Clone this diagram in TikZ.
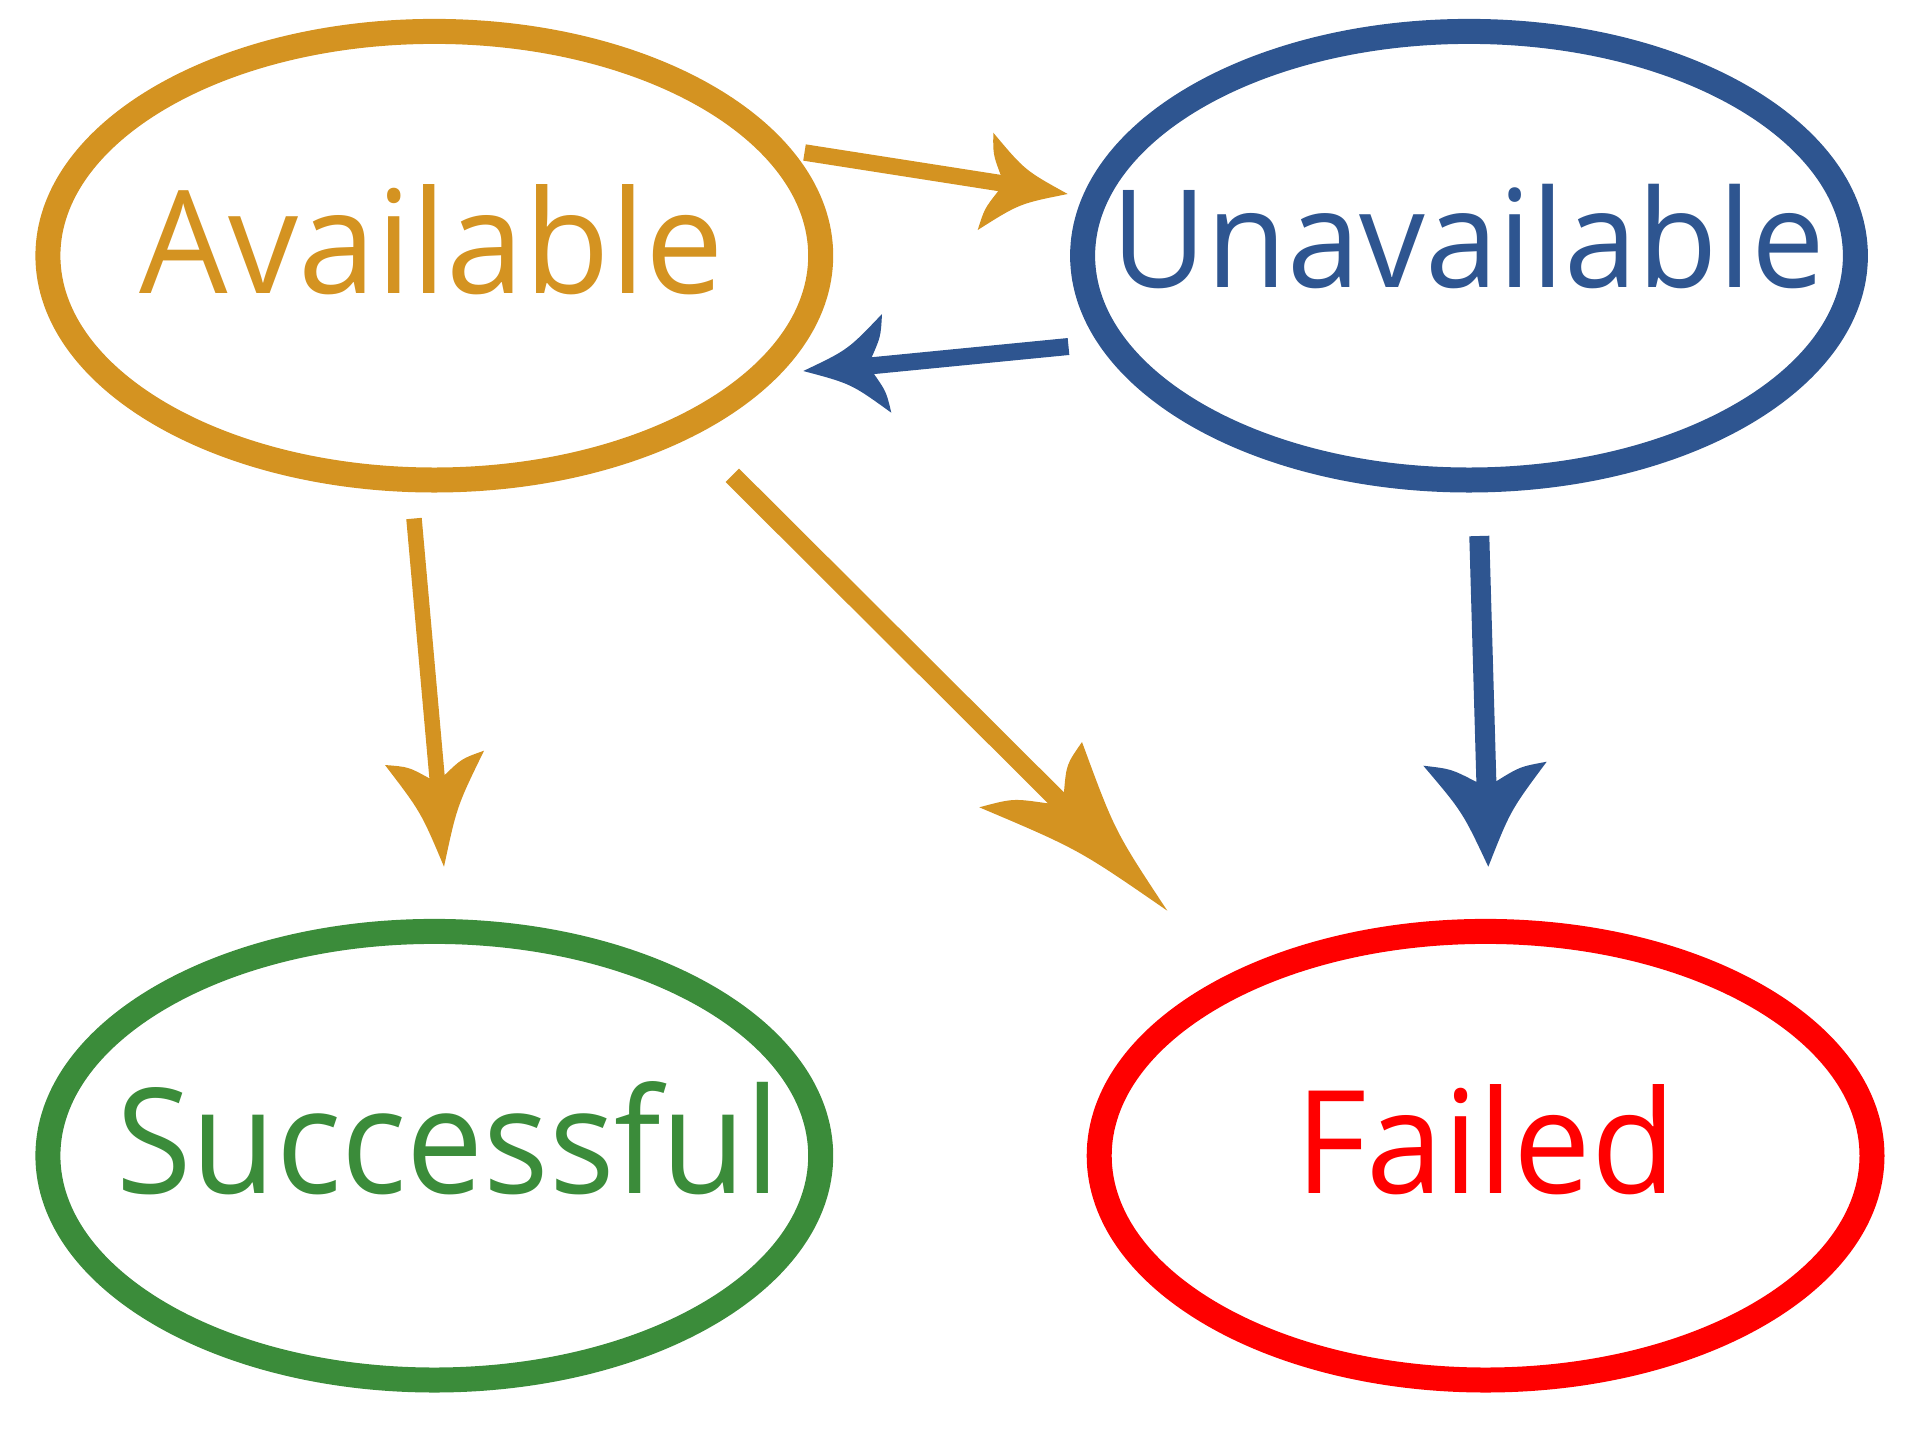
\documentclass[tikz,border=0pt]{standalone}
\usepackage{fontspec}
\setmainfont{Open Sans}
\usetikzlibrary{calc,shapes.geometric}
\definecolor{cOr}{RGB}{212,147,33}
\definecolor{cBl}{RGB}{46,85,144}
\definecolor{cGr}{RGB}{59,140,58}
\definecolor{cRd}{RGB}{255,0,0}
% arrow head: #1 colour, #2 tip, #3 left barb, #4 left notch, #5 right notch, #6 right barb, #7 outer bow, #8 inner bow
\newcommand\ahead[8]{%
  \fill[#1] (#2) .. controls ($(#2)!0.5!(#3)!#7!90:(#3)$) .. (#3)
    .. controls ($(#3)!0.5!(#4)!#8!-90:(#4)$) .. (#4) -- (#5)
    .. controls ($(#5)!0.5!(#6)!#8!-90:(#6)$) .. (#6)
    .. controls ($(#6)!0.5!(#2)!#7!90:(#2)$) .. (#2) -- cycle;}
\begin{document}
\begin{tikzpicture}[x=1pt,y=1pt,
  state/.style={ellipse, draw=#1, line width=25pt, minimum width=772.8pt,
    minimum height=448.6pt, inner sep=0pt},
  lbl/.style={anchor=base, inner sep=0pt, text=#1,
    font=\fontsize{100pt}{100pt}\selectfont},
  shaft/.style={draw=#1}]
\useasboundingbox (0,0) rectangle (1928,-1436);

% states
\node[state=cOr] (A) at (434.3,-255.7) {};
\node[state=cBl] (U) at (1469,-255.7) {};
\node[state=cGr] (S) at (434.3,-1155.7) {};
\node[state=cRd] (F) at (1485.6,-1155.7) {};

\node[lbl=cOr] (tA) at (432,-293) {\resizebox{584pt}{109pt}{Available}};
\node[lbl=cBl] (tU) at (1468,-287.3) {\resizebox{714pt}{103.3pt}{Unavailable}};
\node[lbl=cGr] (tS) at (448.5,-1193) {\resizebox{664pt}{112pt}{Successful}};
\node[lbl=cRd] (tF) at (1485.5,-1193) {\resizebox{381pt}{109pt}{Failed}};

% arrow 1: Available -> Unavailable
\coordinate (s1) at (804.5,-152.5);
\coordinate (t1) at (1067.7,-194);
\coordinate (bl1) at (993.3,-132.7);
\coordinate (nl1) at (1000.7,-175);
\coordinate (nr1) at (998.3,-191);
\coordinate (br1) at (977.7,-230);
\coordinate (m1) at ($(nl1)!0.5!(nr1)$);
\draw[shaft=cOr, line width=16.5pt] (s1) -- ($(m1)!-4pt!(s1)$);
\ahead{cOr}{t1}{bl1}{nl1}{nr1}{br1}{9pt}{4pt}

% arrow 2: Unavailable -> Available
\coordinate (s2) at (1068.5,-346.5);
\coordinate (t2) at (803.3,-371);
\coordinate (bl2) at (891.3,-412.7);
\coordinate (nl2) at (874,-374);
\coordinate (nr2) at (871.7,-357.3);
\coordinate (br2) at (882,-314);
\coordinate (m2) at ($(nl2)!0.5!(nr2)$);
\draw[shaft=cBl, line width=17pt] (s2) -- ($(m2)!-4pt!(s2)$);
\ahead{cBl}{t2}{bl2}{nl2}{nr2}{br2}{9pt}{4pt}

% arrow 3: Available -> Successful
\coordinate (s3) at (414,-518.5);
\coordinate (t3) at (444,-866.7);
\coordinate (bl3) at (484,-750.7);
\coordinate (nl3) at (444.7,-775);
\coordinate (nr3) at (429.3,-778.3);
\coordinate (br3) at (385,-765);
\coordinate (m3) at ($(nl3)!0.5!(nr3)$);
\draw[shaft=cOr, line width=15.5pt] (s3) -- ($(m3)!-4pt!(s3)$);
\ahead{cOr}{t3}{bl3}{nl3}{nr3}{br3}{7.5pt}{5pt}

% arrow 4: Available -> Failed
\coordinate (s4) at (732.3,-475.3);
\coordinate (t4) at (1167.3,-910.7);
\coordinate (bl4) at (1082,-742);
\coordinate (nl4) at (1064,-791.7);
\coordinate (nr4) at (1047.3,-803.3);
\coordinate (br4) at (979.3,-807.3);
\coordinate (m4) at ($(nl4)!0.5!(nr4)$);
\draw[shaft=cOr, line width=19pt] (s4) -- ($(m4)!-4pt!(s4)$);
\ahead{cOr}{t4}{bl4}{nl4}{nr4}{br4}{11pt}{7pt}

% arrow 5: Unavailable -> Failed
\coordinate (s5) at (1479.3,-536);
\coordinate (t5) at (1488.3,-866.7);
\coordinate (bl5) at (1546.7,-761.7);
\coordinate (nl5) at (1496.7,-781);
\coordinate (nr5) at (1476,-781.7);
\coordinate (br5) at (1423.3,-765.7);
\coordinate (m5) at ($(nl5)!0.5!(nr5)$);
\draw[shaft=cBl, line width=20pt] (s5) -- ($(m5)!-4pt!(s5)$);
\ahead{cBl}{t5}{bl5}{nl5}{nr5}{br5}{8pt}{5pt}
\end{tikzpicture}
\end{document}
